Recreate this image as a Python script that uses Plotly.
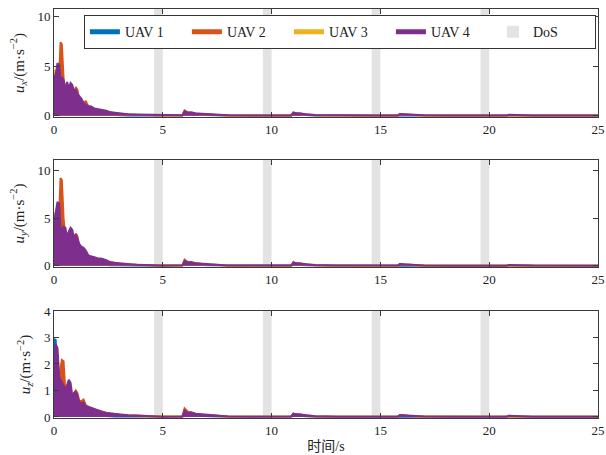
import plotly.graph_objects as go
from plotly.subplots import make_subplots

# ---------------- data ----------------
t_early = [0, 0.08, 0.16, 0.24, 0.3, 0.36, 0.44, 0.52, 0.6, 0.68,
           0.76, 0.84, 0.92, 1.0, 1.08, 1.16, 1.26, 1.36, 1.46, 1.58,
           1.7, 1.85, 2.0, 2.2, 2.4, 2.6, 2.8, 3.0, 3.4, 3.8, 4.2, 4.6]
t_late = [5.0, 5.9, 6.0, 6.15, 6.3, 6.5, 6.8, 7.1, 7.5, 8.0, 9.0, 9.6,
          10.0, 10.9, 11.0, 11.15, 11.3, 11.6, 12.0, 13.0, 14.6,
          15.0, 15.8, 15.9, 16.1, 16.4, 17.0, 18.0, 19.6,
          20.0, 20.8, 20.9, 21.1, 21.4, 22.0, 25.0]

# u_x  (top panel)
ux_uav1_early = [0.6, 0.4, 0.5, 0.6, 0.9, 1.1, 1.0, 0.5, 0.4, 0.4, 0.5, 0.4, 0.3, 0.4, 0.3, 0.3, 0.3, 0.2, 0.2, 0.2,
                 0.15, 0.15, 0.12, 0.1, 0.08, 0.07, 0.06, 0.05, 0.04, 0.03, 0.03, 0.02]
ux_uav1_late = [0.02, 0.03, 0.2, 0.15, 0.12, 0.1, 0.08, 0.06, 0.05, 0.03, 0.02, 0.02, 0.02, 0.03, 0.12, 0.1, 0.08, 0.06, 0.04, 0.02, 0.02,
                0.02, 0.02, 0.08, 0.06, 0.05, 0.03, 0.02, 0.02, 0.02, 0.02, 0.05, 0.04, 0.03, 0.02, 0.02]
ux_uav2_early = [0.5, 1.5, 2.5, 4.0, 7.4, 7.2, 3.8, 2.4, 2.5, 2.0, 2.4, 2.2, 2.0, 2.9, 2.6, 1.6, 1.4, 1.2, 1.5, 0.9,
                 0.7, 0.6, 0.55, 0.5, 0.4, 0.3, 0.25, 0.18, 0.12, 0.1, 0.08, 0.04]
ux_uav2_late = [0.03, 0.05, 0.55, 0.35, 0.3, 0.2, 0.18, 0.12, 0.08, 0.04, 0.02, 0.02, 0.02, 0.04, 0.35, 0.2, 0.25, 0.12, 0.06, 0.03, 0.02,
                0.02, 0.03, 0.2, 0.12, 0.08, 0.04, 0.02, 0.02, 0.02, 0.02, 0.08, 0.06, 0.05, 0.03, 0.02]
ux_uav3_early = [4.6, 4.5, 1.5, 0.8, 1.0, 0.6, 1.2, 0.6, 0.8, 0.5, 1.0, 0.6, 1.2, 1.5, 1.3, 1.4, 0.8, 0.7, 0.6, 0.5,
                 0.4, 0.35, 0.3, 0.25, 0.2, 0.18, 0.15, 0.12, 0.1, 0.08, 0.06, 0.04]
ux_uav3_late = [0.03, 0.04, 0.35, 0.25, 0.2, 0.15, 0.12, 0.1, 0.06, 0.03, 0.02, 0.02, 0.02, 0.03, 0.2, 0.15, 0.12, 0.08, 0.05, 0.02, 0.02,
                0.02, 0.02, 0.12, 0.1, 0.06, 0.03, 0.02, 0.02, 0.02, 0.02, 0.06, 0.05, 0.04, 0.02, 0.02]
ux_uav4_early = [3.8, 4.2, 5.3, 5.1, 3.6, 3.9, 3.6, 2.6, 3.4, 2.8, 3.3, 3.1, 2.4, 2.7, 2.2, 2.0, 1.7, 1.3, 1.1, 1.0,
                 0.95, 0.75, 0.7, 0.6, 0.5, 0.35, 0.3, 0.2, 0.15, 0.12, 0.1, 0.05]
ux_uav4_late = [0.03, 0.05, 0.45, 0.3, 0.35, 0.25, 0.2, 0.15, 0.1, 0.05, 0.03, 0.02, 0.02, 0.04, 0.3, 0.25, 0.2, 0.15, 0.08, 0.03, 0.02,
                0.02, 0.03, 0.18, 0.15, 0.1, 0.05, 0.02, 0.02, 0.02, 0.02, 0.1, 0.08, 0.06, 0.03, 0.02]

# u_y  (middle panel)
uy_uav1_early = [0.7, 0.5, 0.6, 0.8, 1.0, 1.3, 1.2, 0.6, 0.5, 0.5, 0.6, 0.5, 0.4, 0.5, 0.4, 0.35, 0.3, 0.25, 0.2, 0.2,
                 0.15, 0.15, 0.12, 0.1, 0.08, 0.07, 0.06, 0.05, 0.04, 0.03, 0.03, 0.02]
uy_uav1_late = [0.02, 0.03, 0.25, 0.18, 0.14, 0.1, 0.08, 0.06, 0.05, 0.03, 0.02, 0.02, 0.02, 0.03, 0.14, 0.1, 0.08, 0.06, 0.04, 0.02, 0.02,
                0.02, 0.02, 0.09, 0.07, 0.05, 0.03, 0.02, 0.02, 0.02, 0.02, 0.05, 0.04, 0.03, 0.02, 0.02]
uy_uav2_early = [0.6, 2.0, 3.5, 5.5, 9.2, 9.0, 5.0, 3.0, 2.8, 2.4, 2.9, 2.7, 2.4, 3.4, 3.1, 2.0, 1.7, 1.5, 1.4, 1.0,
                 0.8, 0.7, 0.65, 0.6, 0.5, 0.35, 0.3, 0.22, 0.14, 0.1, 0.08, 0.04]
uy_uav2_late = [0.03, 0.05, 0.65, 0.4, 0.35, 0.25, 0.2, 0.14, 0.09, 0.04, 0.02, 0.02, 0.02, 0.04, 0.4, 0.22, 0.3, 0.14, 0.07, 0.03, 0.02,
                0.02, 0.03, 0.22, 0.14, 0.09, 0.04, 0.02, 0.02, 0.02, 0.02, 0.09, 0.07, 0.05, 0.03, 0.02]
uy_uav3_early = [5.5, 5.4, 2.0, 1.0, 1.2, 0.8, 1.4, 0.7, 0.9, 0.6, 1.2, 0.8, 1.4, 1.8, 1.5, 1.6, 1.0, 0.8, 0.7, 0.6,
                 0.5, 0.4, 0.35, 0.3, 0.25, 0.2, 0.17, 0.14, 0.1, 0.08, 0.06, 0.04]
uy_uav3_late = [0.03, 0.04, 0.4, 0.3, 0.22, 0.16, 0.13, 0.1, 0.07, 0.03, 0.02, 0.02, 0.02, 0.03, 0.22, 0.16, 0.13, 0.09, 0.05, 0.02, 0.02,
                0.02, 0.02, 0.14, 0.1, 0.07, 0.03, 0.02, 0.02, 0.02, 0.02, 0.07, 0.05, 0.04, 0.02, 0.02]
uy_uav4_early = [4.5, 5.5, 6.7, 6.5, 4.0, 3.8, 4.1, 4.0, 3.0, 3.6, 4.0, 3.8, 2.8, 3.3, 2.8, 2.3, 2.0, 1.9, 1.6, 1.1,
                 1.0, 0.9, 0.8, 0.75, 0.6, 0.35, 0.3, 0.25, 0.15, 0.12, 0.1, 0.05]
uy_uav4_late = [0.03, 0.05, 0.5, 0.35, 0.4, 0.28, 0.22, 0.16, 0.1, 0.05, 0.03, 0.02, 0.02, 0.04, 0.35, 0.28, 0.22, 0.16, 0.08, 0.03, 0.02,
                0.02, 0.03, 0.2, 0.16, 0.1, 0.05, 0.02, 0.02, 0.02, 0.02, 0.1, 0.08, 0.06, 0.03, 0.02]

# u_z  (bottom panel)
uz_uav1_early = [2.95, 2.9, 0.8, 0.5, 0.4, 0.35, 0.3, 0.25, 0.25, 0.2, 0.2, 0.2, 0.15, 0.15, 0.12, 0.1, 0.1, 0.08, 0.08, 0.07,
                 0.06, 0.05, 0.05, 0.04, 0.03, 0.03, 0.02, 0.02, 0.02, 0.01, 0.01, 0.01]
uz_uav1_late = [0.01, 0.01, 0.1, 0.08, 0.06, 0.05, 0.04, 0.03, 0.02, 0.01, 0.01, 0.01, 0.01, 0.01, 0.05, 0.04, 0.03, 0.02, 0.01, 0.01, 0.01,
                0.01, 0.01, 0.03, 0.02, 0.02, 0.01, 0.01, 0.01, 0.01, 0.01, 0.02, 0.02, 0.01, 0.01, 0.01]
uz_uav2_early = [0.3, 0.8, 1.2, 1.5, 1.8, 2.15, 2.1, 1.0, 0.9, 0.8, 0.9, 0.8, 0.9, 1.0, 0.9, 0.6, 0.6, 0.66, 0.45, 0.38,
                 0.33, 0.28, 0.24, 0.2, 0.16, 0.13, 0.1, 0.08, 0.06, 0.05, 0.04, 0.02]
uz_uav2_late = [0.01, 0.02, 0.32, 0.2, 0.16, 0.12, 0.08, 0.06, 0.04, 0.02, 0.01, 0.01, 0.01, 0.02, 0.13, 0.08, 0.1, 0.05, 0.03, 0.01, 0.01,
                0.01, 0.01, 0.07, 0.05, 0.03, 0.02, 0.01, 0.01, 0.01, 0.01, 0.04, 0.03, 0.02, 0.01, 0.01]
uz_uav3_early = [2.2, 1.5, 0.6, 0.4, 0.5, 0.35, 0.45, 0.3, 0.4, 0.3, 0.5, 0.4, 0.6, 0.65, 0.6, 0.55, 0.35, 0.3, 0.25, 0.2,
                 0.18, 0.15, 0.12, 0.1, 0.08, 0.07, 0.06, 0.05, 0.04, 0.03, 0.02, 0.02]
uz_uav3_late = [0.01, 0.02, 0.15, 0.12, 0.1, 0.07, 0.05, 0.04, 0.03, 0.01, 0.01, 0.01, 0.01, 0.01, 0.08, 0.06, 0.05, 0.03, 0.02, 0.01, 0.01,
                0.01, 0.01, 0.05, 0.04, 0.03, 0.01, 0.01, 0.01, 0.01, 0.01, 0.03, 0.02, 0.02, 0.01, 0.01]
uz_uav4_early = [1.5, 2.75, 2.6, 1.5, 1.4, 1.3, 1.2, 1.0, 1.2, 1.4, 1.3, 0.8, 0.9, 0.95, 0.8, 0.55, 0.5, 0.55, 0.4, 0.38,
                 0.35, 0.3, 0.25, 0.2, 0.15, 0.13, 0.1, 0.08, 0.06, 0.05, 0.04, 0.02]
uz_uav4_late = [0.01, 0.02, 0.25, 0.15, 0.18, 0.12, 0.1, 0.08, 0.05, 0.02, 0.01, 0.01, 0.01, 0.02, 0.12, 0.1, 0.08, 0.06, 0.03, 0.01, 0.01,
                0.01, 0.01, 0.07, 0.06, 0.04, 0.02, 0.01, 0.01, 0.01, 0.01, 0.04, 0.03, 0.02, 0.01, 0.01]

uav_names = ["UAV 1", "UAV 2", "UAV 3", "UAV 4"]
dos_start = [4.6, 9.6, 14.6, 19.6]
dos_end = [5.0, 10.0, 15.0, 20.0]

x_ticks = [0, 5, 10, 15, 20, 25]
y_ticks_top = [0, 5, 10]
y_ticks_mid = [0, 5, 10]
y_ticks_bot = [0, 1, 2, 3, 4]

# ---------------- styling ----------------
colors = ["#0072BD", "#D95319", "#EDB120", "#7E2F8E"]
dos_color = "#E3E3E3"
axis_color = "#3A3A3A"
font_family = "Liberation Serif, Times New Roman, Noto Sans CJK SC, serif"

t_all = t_early + t_late
panels = [
    [ux_uav1_early + ux_uav1_late, ux_uav2_early + ux_uav2_late, ux_uav3_early + ux_uav3_late, ux_uav4_early + ux_uav4_late],
    [uy_uav1_early + uy_uav1_late, uy_uav2_early + uy_uav2_late, uy_uav3_early + uy_uav3_late, uy_uav4_early + uy_uav4_late],
    [uz_uav1_early + uz_uav1_late, uz_uav2_early + uz_uav2_late, uz_uav3_early + uz_uav3_late, uz_uav4_early + uz_uav4_late],
]
y_titles = [
    "<i>u<sub>x</sub></i>/(m·s<sup>−2</sup>)",
    "<i>u<sub>y</sub></i>/(m·s<sup>−2</sup>)",
    "<i>u<sub>z</sub></i>/(m·s<sup>−2</sup>)",
]
y_ranges = [[-0.12, 10.75], [-0.12, 11.1], [-0.04, 4]]
y_tickss = [y_ticks_top, y_ticks_mid, y_ticks_bot]

fig = make_subplots(rows=3, cols=1, shared_xaxes=False, vertical_spacing=0.1)

for r, series in enumerate(panels, start=1):
    for i, vals in enumerate(series):
        fig.add_trace(go.Scatter(
            x=t_all, y=vals, mode="lines",
            line=dict(color=colors[i], width=2),
            fill="tozeroy", fillcolor=colors[i],
            showlegend=False, hoverinfo="skip"),
            row=r, col=1)
    for s, e in zip(dos_start, dos_end):
        fig.add_vrect(x0=s, x1=e, fillcolor=dos_color, opacity=1, line_width=0,
                      layer="below", row=r, col=1)

# legend-only entries
for i, name in enumerate(uav_names):
    fig.add_trace(go.Scatter(x=[None], y=[None], mode="lines", name=name,
                             line=dict(color=colors[i], width=2.5)), row=1, col=1)
fig.add_trace(go.Bar(x=[None], y=[None], name="DoS", marker=dict(color=dos_color,
                     line=dict(width=0))), row=1, col=1)

# plot area in window px: x 54..598, y 9..418
H = 409.0
doms = [[(418 - 117) / H, 1.0], [(418 - 267) / H, (418 - 160) / H], [0.0, (418 - 311) / H]]

for r in range(1, 4):
    fig.update_xaxes(row=r, col=1, range=[0, 25], tickvals=x_ticks, ticks="inside", ticklen=5,
                     showline=True, mirror="ticks", linecolor=axis_color, linewidth=1,
                     tickcolor=axis_color, showgrid=False, zeroline=False, automargin=False,
                     domain=[0, 1],
                     tickfont=dict(family=font_family, size=13, color="#222"))
    fig.update_yaxes(row=r, col=1, range=y_ranges[r - 1], tickvals=y_tickss[r - 1],
                     ticks="inside", ticklen=5, domain=doms[r - 1], automargin=False,
                     showline=True, mirror="ticks", linecolor=axis_color, linewidth=1,
                     tickcolor=axis_color, showgrid=False, zeroline=False,
                     title=dict(text=y_titles[r - 1], standoff=9,
                                font=dict(family=font_family, size=15, color="#222")),
                     tickfont=dict(family=font_family, size=13, color="#222"))

fig.update_xaxes(row=3, col=1, title=dict(text="时间/s", standoff=4,
                 font=dict(family=font_family, size=14, color="#222")))

fig.update_layout(
    width=606, height=455,
    margin=dict(l=54, r=8, t=9, b=37, autoexpand=False),
    paper_bgcolor="white", plot_bgcolor="white",
    font=dict(family=font_family, size=13, color="#222"),
    legend=dict(orientation="h", x=0.055, y=0.985, xanchor="left", yanchor="top",
                bgcolor="white", bordercolor="#333", borderwidth=1,
                entrywidth=57, entrywidthmode="pixels",
                font=dict(family=font_family, size=14, color="#222"),
                itemsizing="constant"),
    barmode="overlay",
)

fig.write_html("out.html", config={"displayModeBar": False},
               post_script="document.body.style.margin='0';document.body.style.overflow='hidden';")
